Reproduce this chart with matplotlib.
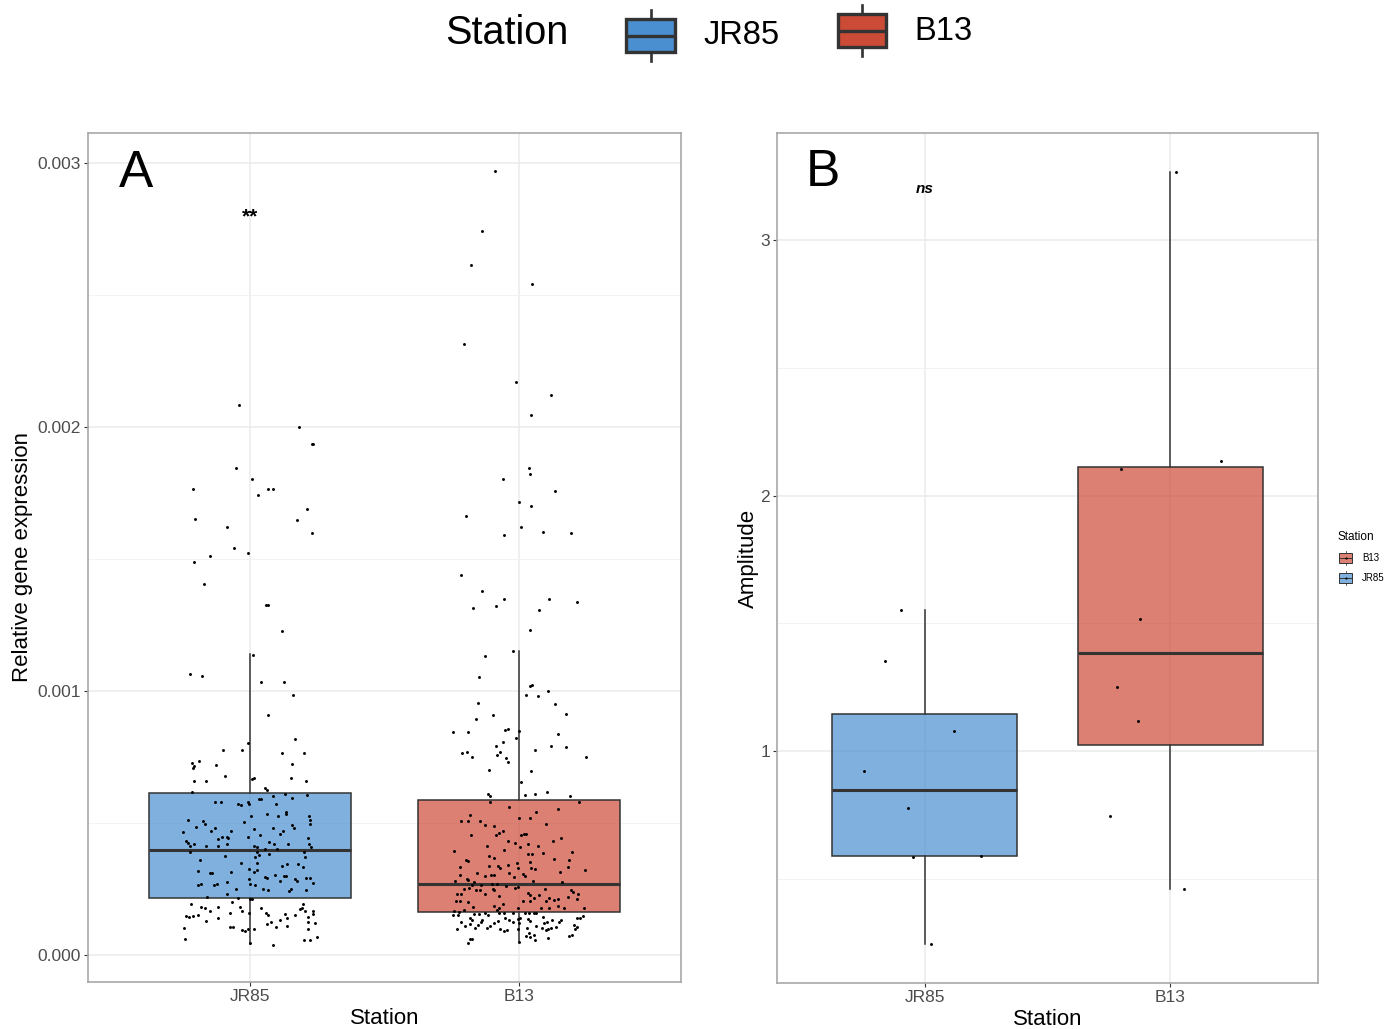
import numpy as np
import matplotlib.pyplot as plt
from matplotlib import cbook
from matplotlib.colors import to_rgba
from matplotlib.patches import Rectangle
from matplotlib.ticker import FormatStrFormatter

plt.rcParams['font.family'] = ['Liberation Sans', 'DejaVu Sans']

stations = ['JR85', 'B13']
colours = ['#4a8fcf', '#cc4b37']

# Panel A: relative gene expression per sample, with jitter offsets
jr85_expr = [
    0.002085, 0.001999, 0.001937, 0.001937, 0.001844, 0.001803, 0.001767, 0.001767, 0.001765, 0.001741,
    0.001689, 0.001651, 0.001648, 0.001623, 0.001597, 0.001542, 0.001524, 0.001510, 0.001490, 0.001406,
    0.001327, 0.001327, 0.001227, 0.001137, 0.001064, 0.001058, 0.001034, 0.001033, 0.000985, 0.000908,
    0.000817, 0.000803, 0.000778, 0.000776, 0.000764, 0.000767, 0.000734, 0.000729, 0.000715, 0.000707,
    0.000719, 0.000724, 0.000680, 0.000667, 0.000672, 0.000672, 0.000661, 0.000661, 0.000658, 0.000618,
    0.000632, 0.000627, 0.000601, 0.000612, 0.000594, 0.000593, 0.000605, 0.000580, 0.000580, 0.000573,
    0.000569, 0.000579, 0.000574, 0.000591, 0.000574, 0.000542, 0.000533, 0.000528, 0.000533, 0.000527,
    0.000526, 0.000513, 0.000513, 0.000509, 0.000496, 0.000504, 0.000498, 0.000486, 0.000482, 0.000469,
    0.000482, 0.000493, 0.000482, 0.000467, 0.000470, 0.000479, 0.000470, 0.000460, 0.000448, 0.000448,
    0.000445, 0.000454, 0.000444, 0.000431, 0.000425, 0.000415, 0.000422, 0.000438, 0.000414, 0.000420,
    0.000412, 0.000446, 0.000415, 0.000410, 0.000430, 0.000422, 0.000421, 0.000419, 0.000410, 0.000390,
    0.000389, 0.000378, 0.000402, 0.000391, 0.000376, 0.000400, 0.000381, 0.000359, 0.000373, 0.000349,
    0.000371, 0.000349, 0.000337, 0.000344, 0.000346, 0.000332, 0.000324, 0.000315, 0.000317, 0.000315,
    0.000309, 0.000309, 0.000325, 0.000296, 0.000293, 0.000304, 0.000299, 0.000299, 0.000290, 0.000281,
    0.000289, 0.000291, 0.000293, 0.000275, 0.000269, 0.000265, 0.000267, 0.000269, 0.000271, 0.000265,
    0.000281, 0.000274, 0.000252, 0.000248, 0.000252, 0.000242, 0.000252, 0.000246, 0.000230, 0.000221,
    0.000218, 0.000213, 0.000195, 0.000202, 0.000214, 0.000195, 0.000183, 0.000179, 0.000183, 0.000183,
    0.000168, 0.000179, 0.000174, 0.000177, 0.000168, 0.000166, 0.000156, 0.000168, 0.000149, 0.000145,
    0.000149, 0.000150, 0.000161, 0.000158, 0.000153, 0.000154, 0.000142, 0.000151, 0.000144, 0.000139,
    0.000158, 0.000132, 0.000129, 0.000125, 0.000124, 0.000122, 0.000101, 0.000105, 0.000107, 0.000116,
    0.000108, 0.000111, 0.0000946, 0.0000908, 0.0000971, 0.0000984, 0.0000984, 0.0000618, 0.0000567, 0.0000567,
    0.0000681, 0.0000391, 0.0000441,
]
jr85_jitter = [
    -0.041, 0.182, 0.230, 0.235, -0.051, 0.008, -0.212, 0.066, 0.086, 0.031,
    0.212, -0.202, 0.177, -0.084, 0.231, -0.058, -0.007, -0.149, -0.205, -0.170,
    0.060, 0.069, 0.119, 0.012, -0.221, -0.177, 0.041, 0.127, 0.160, 0.069,
    0.169, -0.008, -0.030, -0.101, 0.119, 0.203, -0.190, -0.215, -0.207, -0.212,
    -0.124, 0.157, -0.091, 0.010, 0.015, 0.152, -0.208, -0.162, 0.207, -0.215,
    0.058, 0.064, 0.088, 0.131, 0.155, 0.036, 0.213, -0.129, -0.107, -0.043,
    -0.033, -0.008, -0.002, 0.040, 0.096, 0.136, 0.134, 0.003, 0.064, 0.104,
    0.220, 0.225, -0.228, -0.174, -0.167, -0.021, 0.225, -0.200, -0.127, -0.145,
    0.086, 0.157, 0.164, -0.246, -0.068, 0.015, 0.124, 0.114, -0.102, -0.086,
    -0.081, 0.038, 0.215, -0.238, -0.228, -0.221, -0.207, -0.116, -0.119, -0.084,
    -0.162, -0.008, 0.017, 0.026, 0.071, 0.089, 0.142, 0.220, 0.228, -0.220,
    0.026, 0.035, 0.102, 0.203, -0.091, 0.056, 0.071, -0.183, 0.018, 0.028,
    0.205, -0.031, 0.119, 0.140, 0.179, 0.197, 0.026, 0.017, -0.193, -0.071,
    -0.147, -0.140, -0.003, 0.058, 0.064, 0.094, 0.126, 0.136, 0.167, 0.177,
    -0.003, 0.208, 0.225, -0.084, -0.121, -0.131, -0.193, -0.179, 0.000, 0.021,
    0.111, 0.233, -0.051, 0.069, 0.050, 0.145, 0.152, 0.207, -0.083, -0.160,
    -0.045, 0.000, -0.218, -0.066, 0.010, 0.197, -0.179, -0.165, -0.117, -0.035,
    -0.030, 0.043, 0.185, 0.195, 0.205, 0.233, 0.235, -0.149, -0.238, -0.226,
    -0.212, -0.193, -0.074, 0.060, 0.069, 0.132, 0.137, 0.167, 0.218, -0.116,
    -0.003, 0.114, -0.164, 0.078, 0.216, 0.241, -0.243, -0.074, -0.063, 0.063,
    0.098, 0.140, -0.030, -0.017, -0.007, 0.017, 0.218, -0.240, 0.203, 0.223,
    0.251, 0.086, 0.000,
]
b13_expr = [
    0.002970, 0.002744, 0.002615, 0.002543, 0.002316, 0.002172, 0.002120, 0.002047, 0.001844, 0.001823,
    0.001804, 0.001757, 0.001715, 0.001700, 0.001662, 0.001622, 0.001592, 0.001604, 0.001597, 0.001439,
    0.001378, 0.001314, 0.001322, 0.001349, 0.001347, 0.001339, 0.001306, 0.001231, 0.001153, 0.001134,
    0.001052, 0.001019, 0.001023, 0.000985, 0.000980, 0.001001, 0.000953, 0.000951, 0.000908, 0.000913,
    0.000893, 0.000846, 0.000845, 0.000851, 0.000855, 0.000847, 0.000837, 0.000808, 0.000821, 0.000793,
    0.000791, 0.000787, 0.000767, 0.000771, 0.000768, 0.000759, 0.000777, 0.000749, 0.000747, 0.000731,
    0.000749, 0.000700, 0.000696, 0.000654, 0.000612, 0.000603, 0.000605, 0.000609, 0.000619, 0.000603,
    0.000579, 0.000579, 0.000561, 0.000554, 0.000542, 0.000530, 0.000509, 0.000508, 0.000509, 0.000494,
    0.000489, 0.000520, 0.000520, 0.000498, 0.000454, 0.000454, 0.000463, 0.000469, 0.000458, 0.000460,
    0.000453, 0.000445, 0.000431, 0.000425, 0.000421, 0.000431, 0.000414, 0.000415, 0.000395, 0.000397,
    0.000411, 0.000390, 0.000383, 0.000382, 0.000388, 0.000376, 0.000368, 0.000359, 0.000356, 0.000363,
    0.000359, 0.000347, 0.000343, 0.000353, 0.000338, 0.000337, 0.000328, 0.000334, 0.000328, 0.000330,
    0.000325, 0.000332, 0.000322, 0.000314, 0.000309, 0.000300, 0.000303, 0.000304, 0.000309, 0.000308,
    0.000301, 0.000303, 0.000296, 0.000290, 0.000284, 0.000281, 0.000280, 0.000275, 0.000266, 0.000267,
    0.000271, 0.000269, 0.000275, 0.000261, 0.000253, 0.000259, 0.000252, 0.000255, 0.000247, 0.000246,
    0.000250, 0.000246, 0.000250, 0.000246, 0.000238, 0.000233, 0.000231, 0.000233, 0.000235, 0.000228,
    0.000228, 0.000232, 0.000222, 0.000216, 0.000216, 0.000221, 0.000213, 0.000211, 0.000203, 0.000203,
    0.000200, 0.000195, 0.000203, 0.000206, 0.000203, 0.000208, 0.000183, 0.000184, 0.000177, 0.000177,
    0.000179, 0.000178, 0.000187, 0.000177, 0.000178, 0.000170, 0.000166, 0.000164, 0.000154, 0.000154,
    0.000158, 0.000151, 0.000170, 0.000158, 0.000160, 0.000158, 0.000158, 0.000160, 0.000158, 0.000158,
    0.000150, 0.000150, 0.000145, 0.000139, 0.000141, 0.000148, 0.000141, 0.000132, 0.000132, 0.000124,
    0.000139, 0.000132, 0.000135, 0.000142, 0.000137, 0.000130, 0.000131, 0.000125, 0.000132, 0.000126,
    0.000120, 0.000126, 0.000122, 0.000130, 0.000126, 0.000120, 0.000115, 0.000112, 0.000116, 0.000115,
    0.000111, 0.000102, 0.000111, 0.000102, 0.000107, 0.0000996, 0.000102, 0.0000971, 0.0000921, 0.0000946,
    0.0000996, 0.000102, 0.000102, 0.0000940, 0.0000980, 0.0000996, 0.000105, 0.0000731, 0.0000757, 0.0000731,
    0.0000668, 0.0000567, 0.0000656, 0.0000593, 0.0000618, 0.0000467, 0.0000492, 0.0000820, 0.0000744,
]
b13_jitter = [
    -0.089, -0.139, -0.179, 0.048, -0.205, -0.013, 0.119, 0.043, 0.035, 0.040,
    -0.061, 0.132, -0.002, 0.043, -0.197, 0.008, -0.055, 0.088, 0.193, -0.218,
    -0.139, -0.170, -0.086, -0.056, 0.111, 0.213, 0.074, 0.038, -0.025, -0.126,
    -0.150, 0.038, 0.046, 0.026, 0.071, 0.106, -0.152, 0.131, -0.096, 0.174,
    -0.160, -0.245, -0.190, -0.053, -0.041, -0.002, 0.142, -0.060, -0.013, -0.088,
    0.116, 0.174, -0.212, -0.193, -0.073, -0.081, 0.060, -0.174, -0.048, -0.043,
    0.248, -0.114, 0.045, 0.007, -0.116, -0.107, 0.020, 0.060, 0.104, 0.187,
    -0.109, 0.220, -0.038, 0.142, 0.063, -0.182, -0.190, -0.215, -0.145, -0.129,
    -0.093, -0.002, 0.040, 0.098, -0.180, -0.086, -0.076, -0.061, 0.018, 0.025,
    0.005, 0.155, -0.040, -0.017, 0.033, 0.124, -0.119, 0.069, -0.242, -0.055,
    0.003, 0.195, 0.031, 0.046, 0.089, -0.114, -0.094, -0.197, -0.192, 0.129,
    0.185, -0.007, -0.043, 0.041, -0.112, -0.079, -0.071, -0.221, -0.003, 0.045,
    0.058, 0.180, 0.245, 0.152, -0.155, -0.126, -0.104, -0.093, -0.038, 0.012,
    0.023, -0.221, -0.021, -0.195, -0.189, -0.240, 0.050, -0.169, -0.175, -0.142,
    -0.101, -0.081, 0.160, -0.048, -0.015, -0.003, -0.205, -0.185, -0.160, -0.144,
    -0.098, -0.093, 0.096, 0.193, 0.198, -0.231, -0.215, -0.127, 0.033, 0.038,
    0.073, 0.218, -0.074, 0.053, 0.111, 0.179, 0.142, 0.215, -0.233, -0.219,
    -0.190, -0.061, 0.013, 0.038, 0.099, 0.127, -0.172, -0.093, -0.074, -0.005,
    0.079, 0.109, 0.144, 0.167, 0.240, -0.204, -0.243, -0.223, -0.167, -0.150,
    -0.129, -0.116, -0.084, -0.074, -0.055, -0.023, 0.020, 0.036, 0.053, 0.061,
    -0.245, -0.228, 0.089, 0.215, 0.226, 0.236, -0.182, -0.174, -0.137, -0.142,
    -0.053, -0.038, -0.005, 0.003, 0.033, 0.040, 0.121, 0.147, 0.155, 0.103,
    0.093, -0.218, -0.093, -0.078, -0.025, -0.002, 0.202, -0.200, -0.182, -0.154,
    0.061, -0.121, -0.109, 0.116, 0.137, -0.230, -0.164, -0.073, -0.058, -0.046,
    -0.003, 0.028, 0.084, 0.099, 0.106, 0.208, 0.215, 0.185, 0.197, 0.025,
    0.038, 0.058, 0.107, -0.183, -0.175, -0.189, 0.000, 0.035, 0.053,
]

# box summaries for panel A (JR85, B13)
expr_q1 = [0.000216, 0.000163]
expr_med = [0.000398, 0.000269]
expr_q3 = [0.000614, 0.000587]
expr_lo = [0.0000417, 0.000049]
expr_hi = [0.00114, 0.00115]

# Panel B: amplitude per sample
jr85_amp = [1.551, 1.353, 1.077, 0.920, 0.777, 0.587, 0.591, 0.243]
jr85_amp_jitter = [-0.096, -0.159, 0.119, -0.248, -0.069, -0.045, 0.231, 0.027]
b13_amp = [3.265, 2.137, 2.104, 1.516, 1.250, 1.119, 0.744, 0.460]
b13_amp_jitter = [0.024, 0.204, -0.203, -0.123, -0.216, -0.130, -0.244, 0.056]

W, H = 1399, 1029
fig = plt.figure(figsize=(W / 100, H / 100), dpi=100)
axA = fig.add_axes([88 / W, 1 - 982 / H, (681 - 88) / W, (982 - 133) / H])
axB = fig.add_axes([777 / W, 1 - 983 / H, (1318 - 777) / W, (983 - 133) / H])

EDGE = '#333333'
DOT = 4.5


def style_panel(ax, ylim, major, minor, ylabel, ypad):
    ax.set_xlim(0.4, 2.6)
    ax.set_ylim(*ylim)
    ax.set_xticks([1, 2], stations)
    ax.set_yticks(major)
    ax.set_yticks(minor, minor=True)
    ax.grid(True, which='major', color='#ebebeb', lw=1.1)
    ax.grid(True, which='minor', axis='y', color='#f3f3f3', lw=0.7)
    ax.set_axisbelow(True)
    for sp in ax.spines.values():
        sp.set_color('#a8a8a8')
        sp.set_linewidth(1.2)
    ax.tick_params(which='major', length=3, width=0.8, color=EDGE,
                   labelsize=12.5, labelcolor='#4d4d4d', pad=2)
    ax.tick_params(which='minor', length=0)
    ax.set_xlabel('Station', fontsize=16, labelpad=3)
    ax.set_ylabel(ylabel, fontsize=16, labelpad=ypad)


def draw_boxes(ax, stats):
    bp = ax.bxp(stats, positions=[1, 2], widths=0.75, patch_artist=True,
                showcaps=False, showfliers=False,
                boxprops=dict(edgecolor=EDGE, linewidth=1.1),
                medianprops=dict(color=EDGE, linewidth=2.2),
                whiskerprops=dict(color=EDGE, linewidth=1.1))
    for patch, c in zip(bp['boxes'], colours):
        patch.set_facecolor(to_rgba(c, 0.7))
        patch.set_zorder(2)


# --- panel A
statsA = [dict(q1=expr_q1[i], med=expr_med[i], q3=expr_q3[i],
               whislo=expr_lo[i], whishi=expr_hi[i], fliers=[])
          for i in range(2)]
draw_boxes(axA, statsA)
axA.scatter(1 + np.array(jr85_jitter), jr85_expr, s=DOT, color='black', lw=0, zorder=3)
axA.scatter(2 + np.array(b13_jitter), b13_expr, s=DOT, color='black', lw=0, zorder=3)
style_panel(axA, (-0.000102, 0.003114), [0, 0.001, 0.002, 0.003],
            [0.0005, 0.0015, 0.0025], 'Relative gene expression', 3)
axA.yaxis.set_major_formatter(FormatStrFormatter('%.3f'))
axA.text(1.0, 0.002795, '**', ha='center', va='center', fontsize=15, fontweight='bold')
axA.text(0.081, 0.952, 'A', transform=axA.transAxes, ha='center', va='center', fontsize=37)

# --- panel B, boxes from the samples themselves
statsB = []
for vals in (jr85_amp, b13_amp):
    st = cbook.boxplot_stats(vals, whis=1.5)[0]
    st['fliers'] = []
    statsB.append(st)
draw_boxes(axB, statsB)
axB.scatter(1 + np.array(jr85_amp_jitter), jr85_amp, s=DOT, color='black', lw=0, zorder=3)
axB.scatter(2 + np.array(b13_amp_jitter), b13_amp, s=DOT, color='black', lw=0, zorder=3)
style_panel(axB, (0.092, 3.419), [1, 2, 3], [0.5, 1.5, 2.5], 'Amplitude', 1)
axB.text(1.0, 3.2, 'ns', ha='center', va='center', fontsize=11,
         fontweight='bold', fontstyle='italic')
axB.text(0.085, 0.954, 'B', transform=axB.transAxes, ha='center', va='center', fontsize=37)

# --- legends, drawn on a pixel-space overlay
lay = fig.add_axes([0, 0, 1, 1])
lay.set_xlim(0, W)
lay.set_ylim(H, 0)
lay.axis('off')


def key_glyph(x0, y0, w, h, colour, alpha, lw, whisk, dot=False):
    lay.add_patch(Rectangle((x0, y0), w, h, facecolor=to_rgba(colour, alpha),
                            edgecolor=EDGE, lw=lw))
    xc, ym = x0 + w / 2, y0 + h / 2
    lay.plot([x0, x0 + w], [ym, ym], color=EDGE, lw=lw, solid_capstyle='butt')
    lay.plot([xc, xc], [y0 - whisk, y0], color=EDGE, lw=lw * 0.8)
    lay.plot([xc, xc], [y0 + h, y0 + h + whisk], color=EDGE, lw=lw * 0.8)
    if dot:
        lay.plot(xc, ym, 'o', ms=1.6, color='black', mew=0)


# top legend
lay.text(445, 33, 'Station', fontsize=28.5, ha='left', va='center')
key_glyph(626, 19, 49, 33, colours[0], 1.0, 2.4, 9)
lay.text(703, 36, stations[0], fontsize=23.5, ha='left', va='center')
key_glyph(838, 14, 48, 33, colours[1], 1.0, 2.4, 9)
lay.text(914, 31, stations[1], fontsize=23.5, ha='left', va='center')

# small legend beside panel B
lay.text(1337, 537, 'Station', fontsize=8.5, ha='left', va='center')
key_glyph(1339, 553, 13, 10, colours[1], 0.7, 0.7, 2, dot=True)
lay.text(1362, 558, stations[1], fontsize=7, ha='left', va='center')
key_glyph(1339, 573, 13, 10, colours[0], 0.7, 0.7, 2, dot=True)
lay.text(1362, 578, stations[0], fontsize=7, ha='left', va='center')

fig.savefig('out.png', dpi=100)
